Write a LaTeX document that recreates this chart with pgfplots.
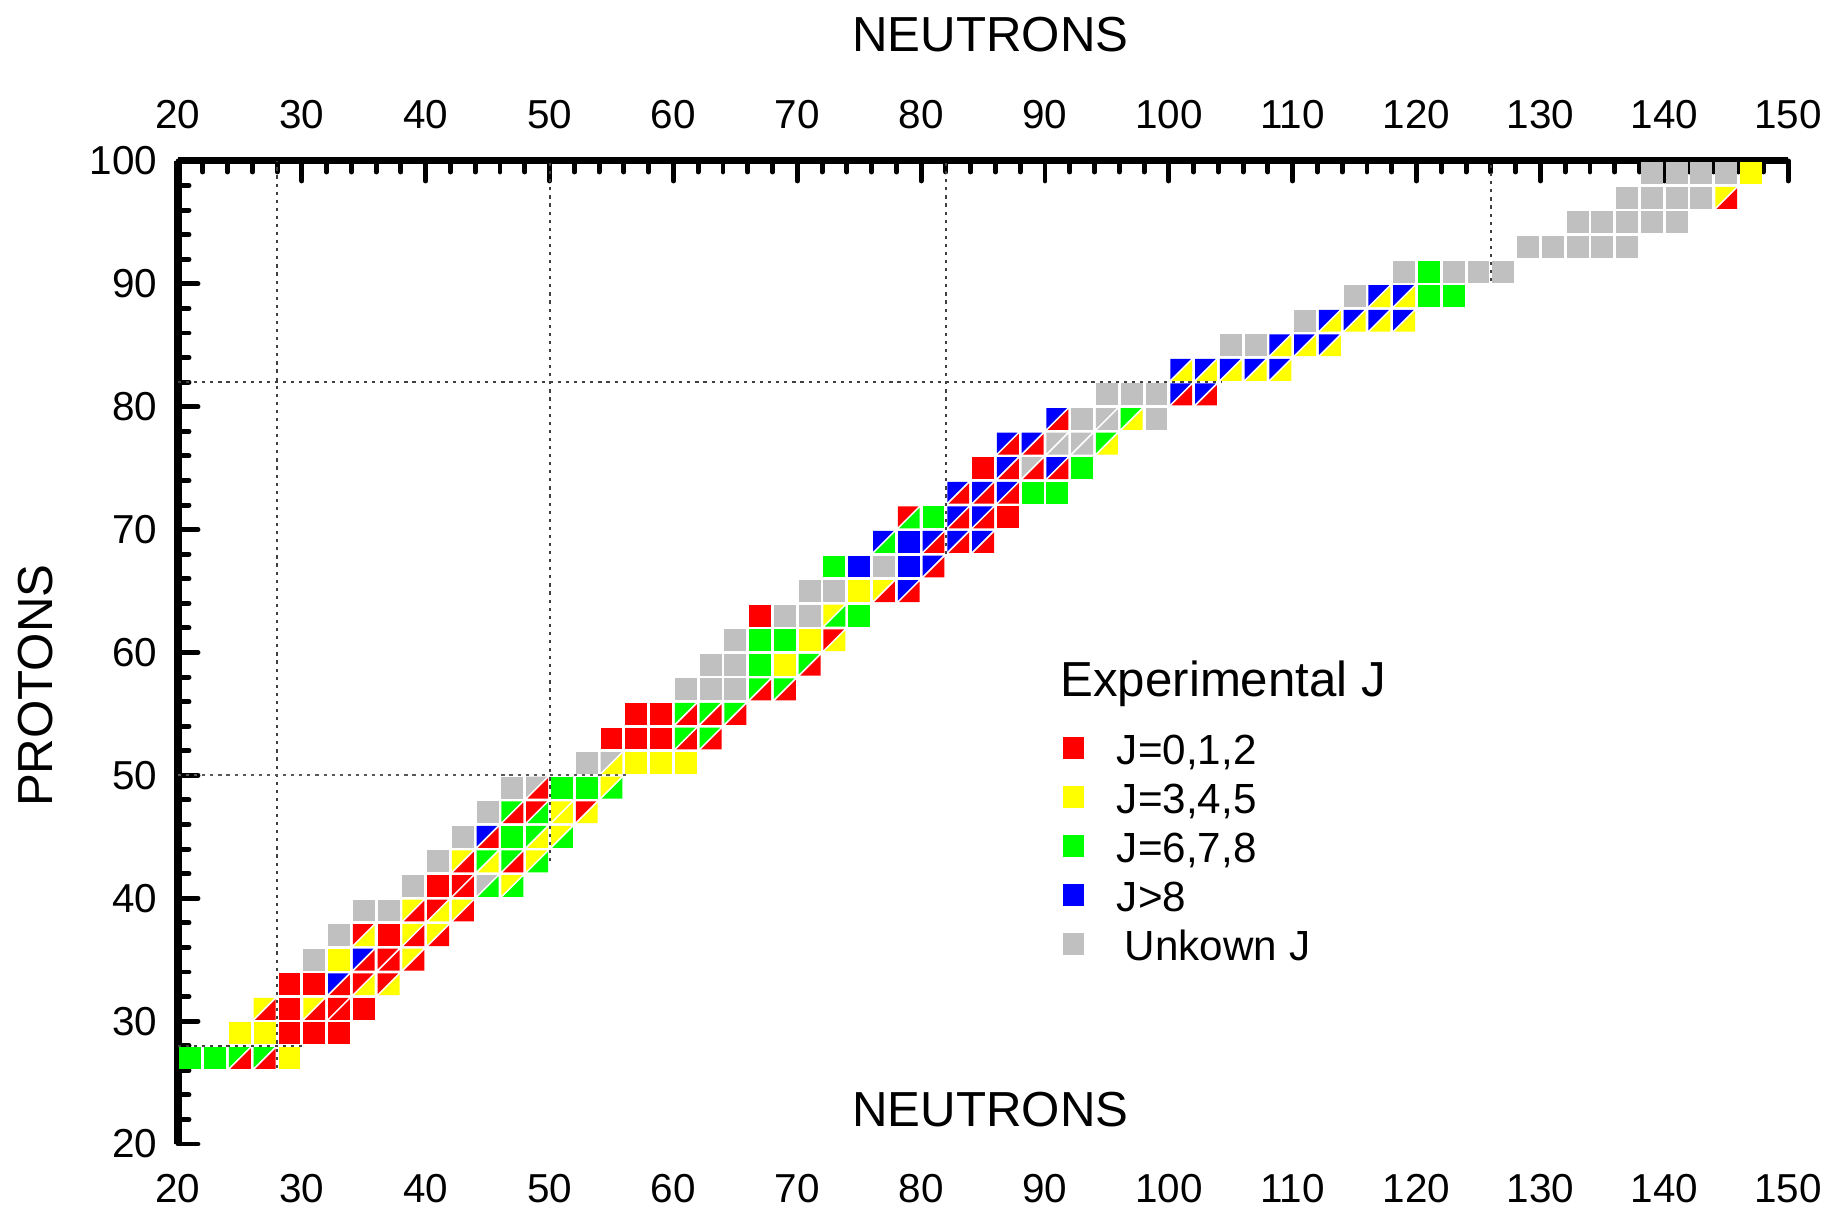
\documentclass[border=0pt]{standalone}
\usepackage{pgfplots}
\pgfplotsset{compat=1.18}
\usepackage{pgfplotstable}
\usepackage{fontspec}
\setmainfont{Liberation Sans}

\definecolor{cR}{RGB}{255,0,0}
\definecolor{cY}{RGB}{255,255,0}
\definecolor{cG}{RGB}{0,255,0}
\definecolor{cB}{RGB}{0,0,255}
\definecolor{cK}{RGB}{192,192,192}

\pgfdeclareplotmark{cellsq}{%
  \pgfpathrectangle{\pgfpoint{-0.1095cm}{-0.1095cm}}{\pgfpoint{0.219cm}{0.219cm}}%
  \pgfusepathqfill}
\pgfdeclareplotmark{cellul}{%
  \pgfpathmoveto{\pgfpoint{-0.1095cm}{-0.0965cm}}%
  \pgfpathlineto{\pgfpoint{-0.1095cm}{0.1095cm}}%
  \pgfpathlineto{\pgfpoint{0.0965cm}{0.1095cm}}%
  \pgfpathclose\pgfusepathqfill}
\pgfdeclareplotmark{celllr}{%
  \pgfpathmoveto{\pgfpoint{-0.0965cm}{-0.1095cm}}%
  \pgfpathlineto{\pgfpoint{0.1095cm}{-0.1095cm}}%
  \pgfpathlineto{\pgfpoint{0.1095cm}{0.0965cm}}%
  \pgfpathclose\pgfusepathqfill}

% all odd-odd cells: k = colour + f (full square) or u (upper-left half of a split cell)
\pgfplotstableread{
N Z k
21 27 Gf
23 27 Gf
25 27 Gu
27 27 Gu
29 27 Yf
25 29 Yf
27 29 Yf
29 29 Rf
31 29 Rf
33 29 Rf
27 31 Yu
29 31 Rf
31 31 Yu
33 31 Ru
35 31 Rf
29 33 Rf
31 33 Rf
33 33 Bu
35 33 Ru
37 33 Ru
31 35 Kf
33 35 Yf
35 35 Bu
37 35 Ru
39 35 Yu
33 37 Kf
35 37 Ru
37 37 Rf
39 37 Yu
41 37 Yu
35 39 Kf
37 39 Kf
39 39 Yu
41 39 Ru
43 39 Yu
39 41 Kf
41 41 Rf
43 41 Ru
45 41 Ku
47 41 Yu
41 43 Kf
43 43 Yu
45 43 Gu
47 43 Gu
49 43 Yu
43 45 Kf
45 45 Bu
47 45 Gf
49 45 Gu
51 45 Yu
45 47 Kf
47 47 Gu
49 47 Ru
51 47 Yu
53 47 Ru
47 49 Kf
49 49 Ku
51 49 Gf
53 49 Gf
55 49 Yu
53 51 Kf
55 51 Ku
57 51 Yf
59 51 Yf
61 51 Yf
55 53 Rf
57 53 Rf
59 53 Rf
61 53 Gu
63 53 Gu
57 55 Rf
59 55 Rf
61 55 Gu
63 55 Gu
65 55 Gu
61 57 Kf
63 57 Kf
65 57 Kf
67 57 Gu
69 57 Gu
63 59 Kf
65 59 Kf
67 59 Gf
69 59 Yf
71 59 Gu
65 61 Kf
67 61 Gf
69 61 Gf
71 61 Yf
73 61 Ru
67 63 Rf
69 63 Kf
71 63 Kf
73 63 Yu
75 63 Gf
71 65 Kf
73 65 Kf
75 65 Yf
77 65 Yu
79 65 Bu
73 67 Gf
75 67 Bf
77 67 Kf
79 67 Bf
81 67 Bu
77 69 Bu
79 69 Bf
81 69 Bu
83 69 Bu
85 69 Bu
79 71 Ru
81 71 Gf
83 71 Bu
85 71 Bu
87 71 Rf
83 73 Bu
85 73 Bu
87 73 Bu
89 73 Gf
91 73 Gf
85 75 Rf
87 75 Bu
89 75 Ku
91 75 Bu
93 75 Gf
87 77 Bu
89 77 Bu
91 77 Ku
93 77 Ku
95 77 Gu
91 79 Bu
93 79 Kf
95 79 Ku
97 79 Gu
99 79 Kf
95 81 Kf
97 81 Kf
99 81 Kf
101 81 Bu
103 81 Bu
101 83 Bu
103 83 Bu
105 83 Bu
107 83 Bu
109 83 Bu
105 85 Kf
107 85 Kf
109 85 Bu
111 85 Bu
113 85 Bu
111 87 Kf
113 87 Bu
115 87 Bu
117 87 Bu
119 87 Bu
115 89 Kf
117 89 Bu
119 89 Bu
121 89 Gf
123 89 Gf
119 91 Kf
121 91 Gf
123 91 Kf
125 91 Kf
127 91 Kf
129 93 Kf
131 93 Kf
133 93 Kf
135 93 Kf
137 93 Kf
133 95 Kf
135 95 Kf
137 95 Kf
139 95 Kf
141 95 Kf
137 97 Kf
139 97 Kf
141 97 Kf
143 97 Kf
145 97 Yu
139 99 Kf
141 99 Kf
143 99 Kf
145 99 Kf
147 99 Yf
}\cellsA

% lower-right halves of the split cells
\pgfplotstableread{
N Z k
25 27 R
27 27 R
27 31 R
31 31 R
33 31 R
33 33 R
35 33 Y
37 33 Y
35 35 R
37 35 R
39 35 R
35 37 Y
39 37 R
41 37 R
39 39 R
41 39 Y
43 39 R
43 41 R
45 41 G
47 41 G
43 43 R
45 43 Y
47 43 R
49 43 G
45 45 R
49 45 Y
51 45 G
47 47 R
49 47 G
51 47 Y
53 47 Y
49 49 R
55 49 G
55 51 Y
61 53 R
63 53 R
61 55 R
63 55 R
65 55 R
67 57 R
69 57 R
71 59 R
73 61 Y
73 63 G
77 65 R
79 65 R
81 67 R
77 69 G
81 69 R
83 69 R
85 69 R
79 71 G
83 71 R
85 71 R
83 73 R
85 73 R
87 73 R
87 75 R
89 75 R
91 75 R
87 77 R
89 77 R
91 77 K
93 77 K
95 77 Y
91 79 R
95 79 K
97 79 Y
101 81 R
103 81 R
101 83 Y
103 83 Y
105 83 Y
107 83 Y
109 83 Y
109 85 Y
111 85 Y
113 85 Y
113 87 Y
115 87 Y
117 87 Y
119 87 Y
117 89 Y
119 89 Y
145 97 R
}\cellsB

\begin{document}
\begin{tikzpicture}
\useasboundingbox (-1.78,-0.64) rectangle (16.49,11.44);
\pgfplotsset{
  common/.style={
    at={(0,0)}, anchor=south west,
    x=0.12385cm, y=0.122875cm,
    xmin=20, xmax=150, ymin=20, ymax=100,
    xtick={20,30,...,150}, ytick={20,30,...,100},
    /pgf/number format/assume math mode=true,
    tick label style={font=\fontsize{11.5}{13}\selectfont},
  }
}
% bottom tick labels only
\begin{axis}[common,
  axis x line=bottom, axis y line=none,
  x axis line style={draw=none},
  xtick style={draw=none}, major tick length=0pt, minor tick num=0,
  xticklabel style={anchor=north, inner sep=0pt, yshift=-0.295cm},
]
\end{axis}
\begin{axis}[common,
  axis x line=top, axis y line=left,
  axis line style={line width=2pt, -},
  tick align=inside,
  minor tick num=4,
  major tick length=0.2cm, minor tick length=0.11cm,
  tick style={black, line width=1.4pt, line cap=round},
  xticklabel style={anchor=south, inner sep=0pt, yshift=0.31cm},
  yticklabel style={anchor=east, inner sep=0pt, xshift=-0.2cm},
  clip=false,
  legend style={at={(axis cs:91.42,53.6)}, anchor=north west, draw=none, fill=none,
    inner sep=0pt, outer sep=0pt, column sep=0.325cm, row sep=0pt,
    font=\fontsize{12}{14}\selectfont,
    nodes={inner sep=0pt, text height=0.33cm, text depth=0.16cm}},
  legend image post style={yshift=0.08cm},
  legend cell align=left,
]
% magic-number guide lines
\addplot[forget plot, black!75, line width=0.6pt, dash pattern=on 0.9pt off 1.4pt] coordinates {(28,26.2) (28,100)};
\addplot[forget plot, black!75, line width=0.6pt, dash pattern=on 0.9pt off 1.4pt] coordinates {(20,28) (30.1,28)};
\addplot[forget plot, black!75, line width=0.6pt, dash pattern=on 0.9pt off 1.4pt] coordinates {(50,43) (50,100)};
\addplot[forget plot, black!65, line width=0.6pt, dash pattern=on 0.9pt off 1.4pt] coordinates {(20,50) (56.3,50)};
\addplot[forget plot, black!75, line width=0.6pt, dash pattern=on 0.9pt off 1.4pt] coordinates {(82,68) (82,100)};
\addplot[forget plot, black!75, line width=0.6pt, dash pattern=on 0.9pt off 1.4pt] coordinates {(20,82) (104.3,82)};
\addplot[forget plot, black!75, line width=0.6pt, dash pattern=on 0.9pt off 1.4pt] coordinates {(126,90.2) (126,100)};

% cells
\addplot[forget plot, scatter, only marks, point meta=explicit symbolic,
  scatter/classes={
    Rf={mark=cellsq,cR}, Yf={mark=cellsq,cY}, Gf={mark=cellsq,cG}, Bf={mark=cellsq,cB}, Kf={mark=cellsq,cK},
    Ru={mark=cellul,cR}, Yu={mark=cellul,cY}, Gu={mark=cellul,cG}, Bu={mark=cellul,cB}, Ku={mark=cellul,cK}}]
  table[x=N, y=Z, meta=k] {\cellsA};
\addplot[forget plot, scatter, only marks, point meta=explicit symbolic,
  scatter/classes={
    R={mark=celllr,cR}, Y={mark=celllr,cY}, G={mark=celllr,cG}, B={mark=celllr,cB}, K={mark=celllr,cK}}]
  table[x=N, y=Z, meta=k] {\cellsB};

\addlegendimage{only marks, mark=cellsq, cR}
\addlegendentry{J=0,1,2}
\addlegendimage{only marks, mark=cellsq, cY}
\addlegendentry{J=3,4,5}
\addlegendimage{only marks, mark=cellsq, cG}
\addlegendentry{J=6,7,8}
\addlegendimage{only marks, mark=cellsq, cB}
\addlegendentry{J>8}
\addlegendimage{only marks, mark=cellsq, cK}
\addlegendentry{\hspace{0.08cm}Unkown J}

\node[anchor=base west, inner sep=0pt, font=\fontsize{14}{16}\selectfont] at (axis cs:91.2,56.42) {Experimental J};
\node[anchor=base, inner sep=0pt, font=\fontsize{14}{16}\selectfont] at (axis cs:85.6,108.9) {NEUTRONS};
\node[anchor=base, inner sep=0pt, font=\fontsize{14}{16}\selectfont] at (axis cs:85.6,21.4) {NEUTRONS};
\node[anchor=base, rotate=90, inner sep=0pt, font=\fontsize{14}{16}\selectfont] at (axis cs:9.83,57.3) {PROTONS};
\end{axis}
\end{tikzpicture}
\end{document}
